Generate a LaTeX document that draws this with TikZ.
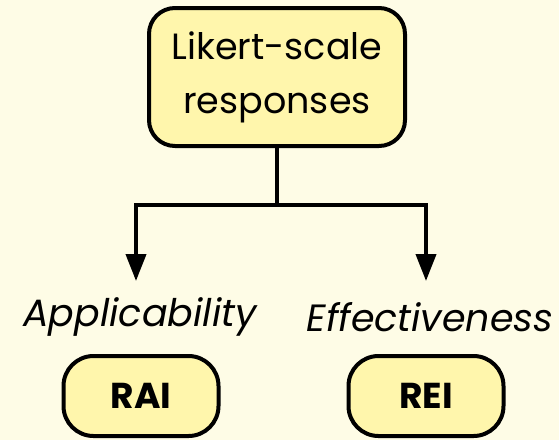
\documentclass[tikz,border=0pt]{standalone}
\usepackage{fontspec}
\setmainfont{Poppins}
\usetikzlibrary{arrows.meta}
\definecolor{paper}{RGB}{254,252,230}
\definecolor{boxfill}{RGB}{255,246,172}
\tikzset{
  box/.style={draw=black, line width=4pt, fill=boxfill, rounded corners=26pt,
    align=center, inner sep=0pt},
  tag/.style={font=\fontsize{38}{44}\selectfont\itshape, inner sep=0pt},
  indexbox/.style={box, minimum width=155pt, minimum height=80pt, rounded corners=30pt,
    font=\fontsize{36}{42}\selectfont\bfseries},
  wire/.style={line width=4pt, draw=black},
  arrow/.style={wire, -{Triangle[length=27pt,width=20pt]}}
}
\begin{document}
\begin{tikzpicture}[x=1pt, y=-1pt]
  \fill[paper] (0,0) rectangle (559,440);
  \useasboundingbox (0,0) rectangle (559,440);
  % source box
  \node[box, minimum width=256pt, minimum height=138pt,
        font=\fontsize{36.5}{54}\selectfont] (src) at (277,77)
        {Likert-scale\\responses};
  % index labels
  \node[tag] (app) at (140,317) {Applicability};
  \node[tag] (eff) at (430,317) {Effectiveness};
  % index boxes
  \node[indexbox] (rai) at (141,396) {RAI};
  \node[indexbox] (rei) at (426,396) {REI};
  % branching connector
  \coordinate (split) at (src.south |- 0,205);
  \coordinate (tipL) at (136,281);
  \coordinate (tipR) at (426,281);
  \draw[wire] (src.south) -- (split);
  \draw[arrow] (split) -| (tipL);
  \draw[arrow] (split) -| (tipR);
\end{tikzpicture}
\end{document}
